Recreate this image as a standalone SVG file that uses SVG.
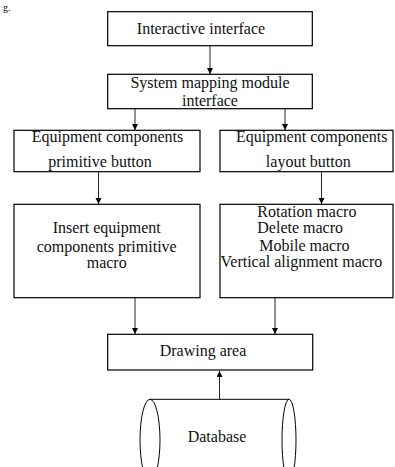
<svg xmlns="http://www.w3.org/2000/svg" width="395" height="467" viewBox="0 0 395 467">
<defs>
<marker id="arr" markerWidth="8" markerHeight="8" refX="6" refY="3" orient="auto" markerUnits="userSpaceOnUse">
<path d="M0,0 L6,3 L0,6 Z" fill="#000"/>
</marker>
<style>
.box{fill:#fff;stroke:#000;stroke-width:1.2}
.t{font-family:"Liberation Serif","Times New Roman",serif;font-size:16px;fill:#111}
.m{text-anchor:middle}
.c{stroke:#222;stroke-width:1;fill:none;marker-end:url(#arr)}
</style>
</defs>
<rect width="395" height="467" fill="#fff"/>
<text x="3" y="11" font-family="Liberation Serif, serif" font-size="10" fill="#111">g.</text>
<g id="connectors">
<line class="c" x1="210" y1="46" x2="210" y2="74"/>
<line class="c" x1="135" y1="109" x2="135" y2="130"/>
<line class="c" x1="285" y1="109" x2="285" y2="130"/>
<line class="c" x1="98.5" y1="172" x2="98.5" y2="204"/>
<line class="c" x1="321.5" y1="172" x2="321.5" y2="204"/>
<line class="c" x1="135" y1="298" x2="135" y2="334"/>
<line class="c" x1="275" y1="298" x2="275" y2="334"/>
<line class="c" x1="219.5" y1="400" x2="219.5" y2="371"/>
</g>
<g id="interactive">
<rect class="box" x="107.7" y="11.7" width="204.6" height="34"/>
<text class="t m" x="201" y="34">Interactive interface</text>
</g>
<g id="mapping">
<rect class="box" x="107.7" y="74.3" width="204.6" height="34.4"/>
<text class="t m" x="210" y="88">System mapping module</text>
<text class="t m" x="210" y="106">interface</text>
</g>
<g id="primbtn">
<rect class="box" x="14" y="130.3" width="186" height="41.4"/>
<text class="t m" x="107.5" y="142">Equipment components</text>
<text class="t m" x="100" y="166.5">primitive button</text>
</g>
<g id="layoutbtn">
<rect class="box" x="220" y="130.3" width="173" height="41.4"/>
<text class="t m" x="311.7" y="142">Equipment components</text>
<text class="t m" x="308.3" y="166.5">layout button</text>
</g>
<g id="insert">
<rect class="box" x="14" y="204.3" width="186" height="93.4"/>
<text class="t m" x="106.7" y="233.3">Insert equipment</text>
<text class="t m" x="106.7" y="251.7">components primitive</text>
<text class="t m" x="106.7" y="268.3">macro</text>
</g>
<g id="macros">
<rect class="box" x="220" y="204.3" width="173" height="93.4"/>
<text class="t" x="257.3" y="216.7">Rotation macro</text>
<text class="t" x="257.3" y="233.3">Delete macro</text>
<text class="t" x="259.3" y="250.7">Mobile macro</text>
<text class="t" x="220.5" y="266.7">Vertical alignment macro</text>
</g>
<g id="drawing">
<rect class="box" x="107.7" y="334.3" width="205" height="35.7"/>
<text class="t m" x="203" y="355.7">Drawing area</text>
</g>
<g id="database">
<path d="M150,399.3 L289,399.3 M150,480.7 L289,480.7" stroke="#000" stroke-width="1" fill="none"/>
<ellipse cx="150" cy="440" rx="10" ry="40.7" fill="#fff" stroke="#000" stroke-width="1"/>
<ellipse cx="289" cy="440" rx="7" ry="40.7" fill="none" stroke="#000" stroke-width="1"/>
<text class="t m" x="217" y="441.7">Database</text>
</g>
</svg>
